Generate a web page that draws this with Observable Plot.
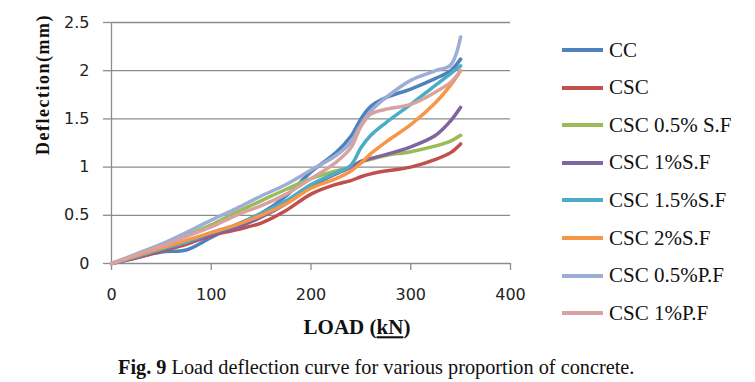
<!DOCTYPE html>
<html><head><meta charset="utf-8">
<script src="https://cdn.jsdelivr.net/npm/d3@7"></script>
<script src="https://cdn.jsdelivr.net/npm/@observablehq/plot@0.6"></script>
<style>
body{margin:0;background:#fff;}
#wrap{position:relative;width:755px;height:382px;overflow:hidden;background:#fff;}
#chart{position:absolute;left:0;top:0;}
.leg{position:absolute;left:562px;height:24px;display:flex;align-items:center;white-space:nowrap;font-family:"Liberation Serif",serif;font-size:21px;color:#111;}
.sw{width:41px;height:4px;margin-right:6px;}
#cap{position:absolute;left:118px;top:356px;font-family:"Liberation Serif",serif;font-size:20.3px;color:#111;white-space:nowrap;}
</style></head><body>
<div id="wrap"><div id="chart"></div><div id="legend"></div><div id="cap"><b>Fig. 9</b> Load deflection curve for various proportion of concrete.</div></div>
<script>
const loads = [0,25,50,75,100,125,150,175,200,225,240,250,260,275,300,325,340,350];
const seriesNames = ["CC","CSC","CSC 0.5% S.F","CSC 1%S.F","CSC 1.5%S.F","CSC 2%S.F","CSC 0.5%P.F","CSC 1%P.F"];
const cc    = [0,0.06,0.12,0.14,0.27,0.40,0.52,0.70,0.95,1.15,1.32,1.50,1.63,1.72,1.81,1.92,2.00,2.12];
const csc   = [0,0.06,0.13,0.20,0.29,0.35,0.42,0.55,0.72,0.82,0.86,0.90,0.93,0.96,1.00,1.08,1.15,1.24];
const sf05  = [0,0.09,0.19,0.29,0.40,0.53,0.65,0.77,0.88,0.96,1.00,1.05,1.08,1.12,1.16,1.22,1.27,1.33];
const sf1   = [0,0.07,0.14,0.22,0.30,0.37,0.48,0.62,0.80,0.93,1.00,1.06,1.09,1.13,1.21,1.33,1.48,1.62];
const sf15  = [0,0.07,0.15,0.22,0.32,0.40,0.52,0.65,0.82,0.94,1.02,1.20,1.33,1.46,1.65,1.85,1.97,2.05];
const sf2   = [0,0.08,0.16,0.24,0.32,0.40,0.50,0.62,0.78,0.88,0.96,1.04,1.14,1.26,1.44,1.67,1.85,2.00];
const pf05  = [0,0.10,0.20,0.32,0.45,0.57,0.70,0.82,0.97,1.12,1.26,1.44,1.58,1.72,1.90,2.00,2.06,2.35];
const pf1   = [0,0.09,0.18,0.28,0.38,0.50,0.60,0.72,0.88,1.05,1.20,1.42,1.55,1.60,1.65,1.78,1.88,2.00];
const seriesValues = [cc,csc,sf05,sf1,sf15,sf2,pf05,pf1];
const colors = ["#4F81BD","#C0504D","#9BBB59","#8064A2","#4BACC6","#F79646","#9DAED6","#D8A2A1"];
const xTicks = [0,100,200,300,400];
const yTicks = [0,0.5,1,1.5,2,2.5];
const xLabel = "LOAD (kN)";
const yLabel = "Deflection(mm)";

const rows = [];
seriesValues.forEach((vals,i)=>vals.forEach((v,j)=>rows.push({series:seriesNames[i],load:loads[j],defl:v})));

const chart = Plot.plot({
  width:755, height:345,
  marginLeft:111, marginRight:245, marginTop:22, marginBottom:82,
  x:{domain:[0,400]},
  y:{domain:[0,2.5]},
  color:{domain:seriesNames, range:colors},
  style:{background:"transparent", overflow:"visible"},
  marks:[
    Plot.gridY(yTicks,{stroke:"#8c8c8c",strokeOpacity:1,strokeWidth:1.3}),
    Plot.ruleX([0],{stroke:"#8c8c8c",strokeWidth:1.3}),
    Plot.axisY(yTicks,{tickSize:8,tickPadding:14,stroke:"#8c8c8c",strokeWidth:1.3,fill:"#222",fontSize:16,fontFamily:"DejaVu Sans",label:null,tickFormat:d=>String(d)}),
    Plot.axisX(xTicks,{tickSize:7,tickPadding:18,stroke:"#8c8c8c",strokeWidth:1.3,fill:"#222",fontSize:16,fontFamily:"DejaVu Sans",label:null,tickFormat:d=>String(d)}),
    Plot.line(rows,{x:"load",y:"defl",z:"series",stroke:"series",curve:"catmull-rom",strokeWidth:3.5,strokeLinecap:"round"}),
    Plot.text([xLabel],{frameAnchor:"bottom",lineAnchor:"middle",dx:46,dy:64,fontSize:21,fontWeight:"bold",fontFamily:"Liberation Serif",fill:"#111"}),
    Plot.text([yLabel],{frameAnchor:"left",rotate:-90,lineAnchor:"middle",dx:-68,dy:12,fontSize:18,fontWeight:"bold",fontFamily:"Liberation Serif",fill:"#111"})
  ]
});
document.getElementById("chart").appendChild(chart);
d3.select(chart).selectAll("text").each(function(){
  const t=d3.select(this);
  if(t.text()===yLabel){t.attr("letter-spacing","1.5px");}
  if(t.text()===xLabel){
    t.text(null);
    t.append("tspan").text("LOAD (");
    t.append("tspan").text("kN").style("text-decoration","underline wavy #d22").style("text-decoration-thickness","1px");
    t.append("tspan").text(")");
  }
});
const leg=document.getElementById("legend");
seriesNames.forEach((n,i)=>{
  const r=document.createElement("div");r.className="leg";
  r.style.top=(50+i*37.6-12)+"px";
  const s=document.createElement("div");s.className="sw";s.style.background=colors[i];
  const t=document.createElement("span");t.textContent=n;
  r.appendChild(s);r.appendChild(t);leg.appendChild(r);
});
</script></body></html>
